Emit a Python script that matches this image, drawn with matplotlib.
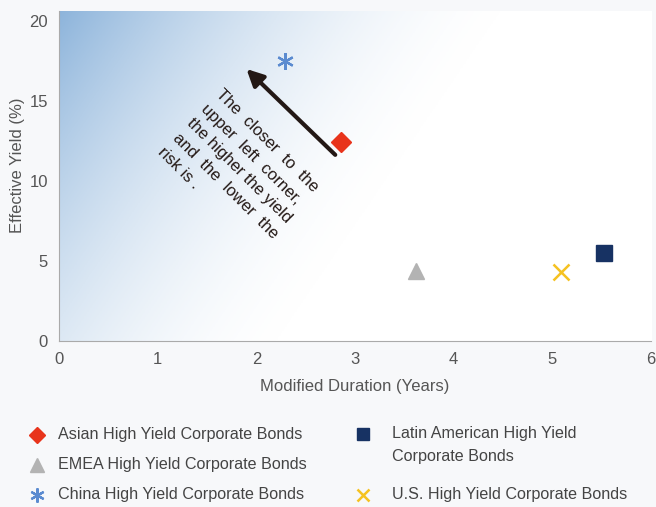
import numpy as np
import matplotlib.pyplot as plt
from matplotlib.colors import LinearSegmentedColormap
from matplotlib.lines import Line2D

plt.rcParams['font.family'] = ['Liberation Sans', 'DejaVu Sans']

# data: (duration in years, effective yield %)
names = ['Asian High Yield Corporate Bonds', 'EMEA High Yield Corporate Bonds',
         'China High Yield Corporate Bonds', 'Latin American High Yield\nCorporate Bonds',
         'U.S. High Yield Corporate Bonds']
duration = [2.86, 3.62, 2.29, 5.52, 5.09]
yields = [12.4, 4.4, 17.5, 5.5, 4.3]

markers = ['D', '^', (6, 2, 0), 's', 'x']
colors = ['#e8341c', '#b3b3b3', '#5b8bd0', '#173263', '#f5c221']
sizes = [10, 12, 12, 11, 11]
edge_w = [1, 1, 1.6, 1, 1.8]

bg = '#f7f8fa'
fig = plt.figure(figsize=(6.56, 5.07), dpi=100, facecolor=bg)
ax = fig.add_axes([0.0899, 0.3274, 0.9025, 0.6509])

# diagonal gradient background (blue top-left fading to white bottom-right)
u, v = np.meshgrid(np.linspace(0, 1, 400), np.linspace(0, 1, 400))
grad = np.clip(1.282 * (1 - u) + 0.487 * v - 0.769, 0, 1) ** 1.8
cmap = LinearSegmentedColormap.from_list('bw', ['#ffffff', '#8db4db'])
ax.imshow(grad, extent=[0, 6, 0, 20.6], origin='lower', aspect='auto', cmap=cmap,
          vmin=0, vmax=1, zorder=0)

for x, y, m, c, s, w in zip(duration, yields, markers, colors, sizes, edge_w):
    ax.plot(x, y, marker=m, color=c, markersize=s, markeredgewidth=w,
            linestyle='none', zorder=3)

ax.annotate('', xy=(1.88, 17.1), xytext=(2.82, 11.5),
            arrowprops=dict(arrowstyle='-|>', lw=3, color='#231815', mutation_scale=25))
ax.text(1.83, 10.6, 'The  closer  to  the\nupper  left  corner,\nthe higher the yield\nand  the  lower  the\nrisk is .',
        rotation=-45, ha='center', va='center', fontsize=12, color='#231815',
        multialignment='left', linespacing=1.45, rotation_mode='anchor')

ax.set_xlim(0, 6)
ax.set_ylim(0, 20.6)
ax.set_xticks(range(0, 7))
ax.set_yticks([0, 5, 10, 15, 20])
ax.tick_params(length=0, labelsize=12, colors='#555555', pad=8)
for side in ['top', 'right']:
    ax.spines[side].set_visible(False)
for side in ['left', 'bottom']:
    ax.spines[side].set_color('#aaaaaa')
ax.set_xlabel('Modified Duration (Years)', fontsize=12, color='#555555', labelpad=8.5)
ax.set_ylabel('Effective Yield (%)', fontsize=12, color='#555555')
ax.yaxis.set_label_coords(-0.057, 0.533)

# legend below the plot, placed by hand
W, H = 656, 507
leg_pos = [(37, 435), (37, 465), (37, 495), (363, 434), (363, 495)]
text_x = [58, 58, 58, 392, 392]
for (px, py), tx, m, c, s, w, name in zip(leg_pos, text_x, markers, colors, sizes, edge_w, names):
    fig.add_artist(Line2D([px / W], [1 - py / H], marker=m, color=c, markersize=s * 0.85,
                          markeredgewidth=w, linestyle='none', transform=fig.transFigure))
    fig.text(tx / W, 1 - (py - 8) / H, name, fontsize=11.6, color='#444444',
             va='top', ha='left', linespacing=1.65)

fig.savefig('out.png', dpi=100, facecolor=bg)
